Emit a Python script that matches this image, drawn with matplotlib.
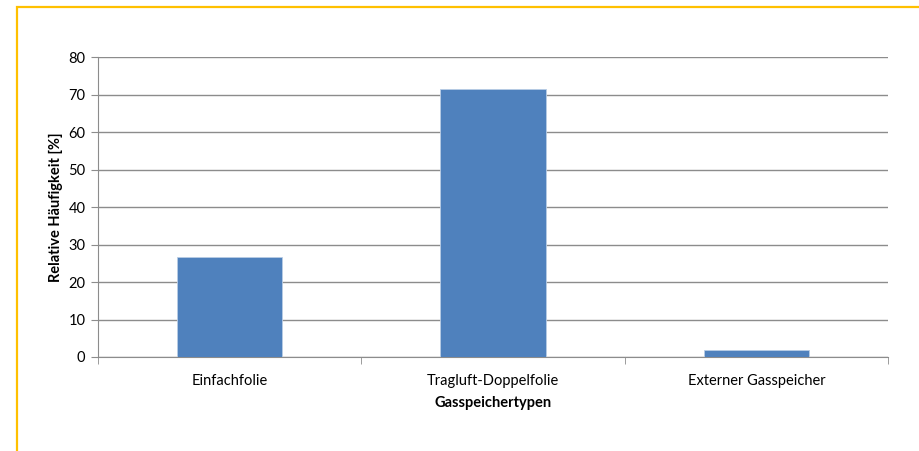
import matplotlib
matplotlib.use("Agg")
import matplotlib.pyplot as plt
from matplotlib.patches import Rectangle

# Daten
kategorien = ["Einfachfolie", "Tragluft-Doppelfolie", "Externer Gasspeicher"]
werte = [26.6, 71.4, 1.9]
yticks = [0, 10, 20, 30, 40, 50, 60, 70, 80]

plt.rcParams['font.family'] = ['Lato', 'DejaVu Sans']

fig = plt.figure(figsize=(9.2, 4.51), dpi=100)
W, H = 920, 451
ax = fig.add_axes([98 / W, 1 - 357 / H, 790 / W, 300 / H])

x = list(range(len(kategorien)))
ax.bar(x, werte, width=0.4, color="#4F81BD", edgecolor="#B9CDE5", linewidth=0.6, zorder=3)

ax.set_xlim(-0.5, len(kategorien) - 0.5)
ax.set_ylim(0, 80)
ax.set_yticks(yticks)
ax.yaxis.grid(True, color="#8C8C8C", linewidth=1.0, zorder=0)

ax.set_xticks(x)
ax.set_xticklabels(kategorien, fontsize=10.5)
ax.tick_params(axis="x", length=0, pad=12)
ax.set_xticks([-0.5, 0.5, 1.5, 2.5], minor=True)
ax.tick_params(axis="x", which="minor", length=5, color="#8C8C8C")
ax.tick_params(axis="y", length=5, color="#8C8C8C", labelsize=10.5, pad=4)

for s in ["top", "right"]:
    ax.spines[s].set_visible(False)
for s in ["left", "bottom"]:
    ax.spines[s].set_color("#8C8C8C")

ax.set_xlabel("Gasspeichertypen", fontsize=10.5, fontweight="bold", labelpad=6)
ax.set_ylabel("Relative Häufigkeit [%]", fontsize=10.5, fontweight="bold", labelpad=4)

# Rahmen
fig.patches.append(Rectangle((17 / W, -0.1), 1.0, 1 - 7 / H + 0.1, transform=fig.transFigure,
                             fill=False, edgecolor="#FFC000", linewidth=1.6))

fig.savefig("out.png", dpi=100, facecolor="white")
